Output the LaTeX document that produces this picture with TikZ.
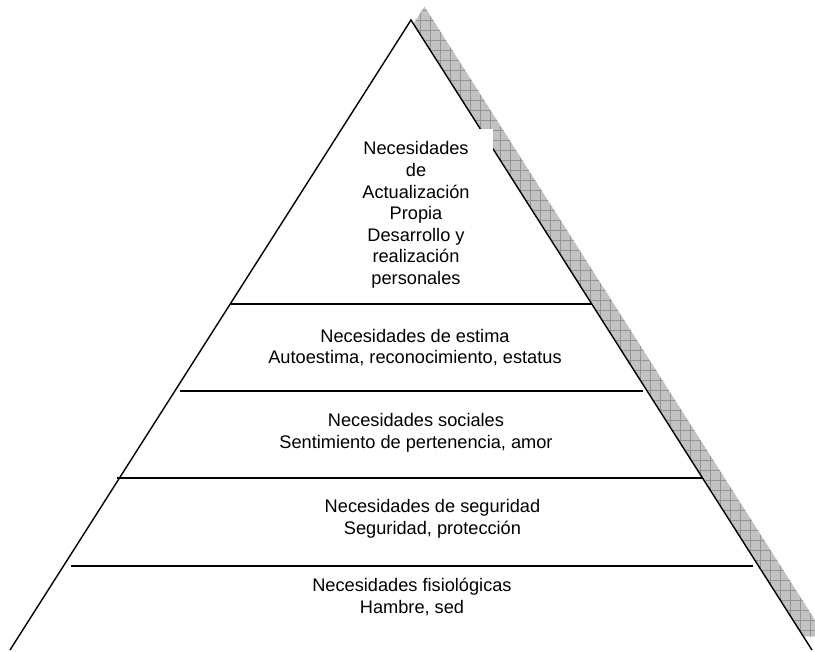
\documentclass[tikz,border=0pt]{standalone}
\usepackage{fontspec}
\setmainfont{Liberation Sans}
\begin{document}
\begin{tikzpicture}[x=1pt,y=-1pt,
  edge/.style={line width=1.4pt, line join=miter, line cap=butt},
  level/.style={line width=1.4pt},
  hatchline/.style={draw=black!42, line width=0.5pt},
  tier/.style={align=center, font=\fontsize{18.2}{21.6}\selectfont, inner sep=0pt}]
\useasboundingbox (0,0) rectangle (815,652);

% pyramid corners
\coordinate (apex) at (411,20);
\coordinate (bl) at (10,650);
\coordinate (br) at (812,650);

% hatched drop shadow: the pyramid moved up and to the right
\begin{scope}
  \clip (0,0) rectangle (815,652);
  \clip ([shift={(13.5,-13.5)}]apex) -- ([shift={(13.5,-13.5)}]bl)
        -- ([shift={(13.5,-13.5)}]br) -- cycle;
  \fill[black!24] (0,0) rectangle (815,652);
  \foreach \i in {0,10,...,820} \draw[hatchline] (\i,0) -- (\i,652);
  \foreach \j in {0,10,...,660} \draw[hatchline] (0,\j) -- (815,\j);
\end{scope}

% pyramid body and sides
\fill[white] (apex) -- (bl) -- (br) -- cycle;
\draw[edge] (bl) -- (apex) -- (br);

% dividing lines between the levels
\coordinate (l1a) at (231,304); \coordinate (l1b) at (592,304);
\coordinate (l2a) at (180,391); \coordinate (l2b) at (643,391);
\coordinate (l3a) at (117,478); \coordinate (l3b) at (703,478);
\coordinate (l4a) at (71,566);  \coordinate (l4b) at (753,566);
\draw[level] (l1a) -- (l1b);
\draw[level] (l2a) -- (l2b);
\draw[level] (l3a) -- (l3b);
\draw[level] (l4a) -- (l4b);

% text box of the top level, laid over the sides
\fill[white] (341.5,129) rectangle (493,295);

% level captions
\node[tier] (top) at (416,215) {Necesidades\\de\\Actualización\\Propia\\Desarrollo y\\realización\\personales};
\node[tier] (estima) at (415,347.5) {Necesidades de estima\\Autoestima, reconocimiento, estatus};
\node[tier] (social) at (416,432.5) {Necesidades sociales\\Sentimiento de pertenencia, amor};
\node[tier] (segur) at (432.5,519) {Necesidades de seguridad\\Seguridad, protección};
\node[tier] (fisio) at (412,597) {Necesidades fisiológicas\\Hambre, sed};
\end{tikzpicture}
\end{document}
